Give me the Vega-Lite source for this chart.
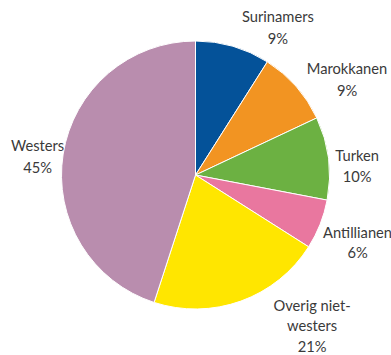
{
  "$schema": "https://vega.github.io/schema/vega-lite/v6.json",
  "autosize": {"type": "none"},
  "width": 391,
  "height": 350,
  "padding": {"left": 0, "right": 0, "top": 0, "bottom": 5},
  "background": "white",
  "config": {"view": {"stroke": null}},
  "data": {
    "values": [
      {"i": 1, "group": "Surinamers", "pct": 9, "label": "Surinamers\n9%"},
      {"i": 2, "group": "Marokkanen", "pct": 9, "label": "Marokkanen\n9%"},
      {"i": 3, "group": "Turken", "pct": 10, "label": "Turken\n10%"},
      {"i": 4, "group": "Antillianen", "pct": 6, "label": "Antillianen\n6%"},
      {"i": 5, "group": "Overig niet-westers", "pct": 21, "label": "Overig niet-\nwesters\n21%"},
      {"i": 6, "group": "Westers", "pct": 45, "label": "Westers\n45%"}
    ]
  },
  "encoding": {
    "theta": {"field": "pct", "type": "quantitative", "stack": true},
    "order": {"field": "i", "type": "quantitative"}
  },
  "layer": [
    {
      "mark": {"type": "arc", "radius": 134, "stroke": "white", "strokeWidth": 1},
      "encoding": {
        "color": {
          "field": "group",
          "type": "nominal",
          "legend": null,
          "scale": {
            "domain": ["Surinamers", "Marokkanen", "Turken", "Antillianen", "Overig niet-westers", "Westers"],
            "range": ["#045299", "#f29422", "#6cb142", "#e9779f", "#ffe600", "#b98dae"]
          }
        }
      }
    },
    {
      "mark": {"type": "text", "radius": 170, "dx": 35, "dy": 6, "align": "center", "baseline": "middle", "lineBreak": "\n", "lineHeight": 22, "font": "Lato", "fontSize": 14.7, "color": "#3a3a3a"},
      "encoding": {"text": {"condition": {"test": "datum.i === 1", "field": "label"}, "value": ""}}
    },
    {
      "mark": {"type": "text", "radius": 170, "dx": 24, "dy": 7.5, "align": "center", "baseline": "middle", "lineBreak": "\n", "lineHeight": 22, "font": "Lato", "fontSize": 14.7, "color": "#3a3a3a"},
      "encoding": {"text": {"condition": {"test": "datum.i === 2", "field": "label"}, "value": ""}}
    },
    {
      "mark": {"type": "text", "radius": 170, "dx": -7, "dy": 3, "align": "center", "baseline": "middle", "lineBreak": "\n", "lineHeight": 21, "font": "Lato", "fontSize": 14.7, "color": "#3a3a3a"},
      "encoding": {"text": {"condition": {"test": "datum.i === 3", "field": "label"}, "value": ""}}
    },
    {
      "mark": {"type": "text", "radius": 170, "dx": 4, "dy": -4, "align": "center", "baseline": "middle", "lineBreak": "\n", "lineHeight": 20, "font": "Lato", "fontSize": 14.7, "color": "#3a3a3a"},
      "encoding": {"text": {"condition": {"test": "datum.i === 4", "field": "label"}, "value": ""}}
    },
    {
      "mark": {"type": "text", "radius": 170, "dx": 59, "dy": -28, "align": "center", "baseline": "middle", "lineBreak": "\n", "lineHeight": 20.5, "font": "Lato", "fontSize": 14.7, "color": "#3a3a3a"},
      "encoding": {"text": {"condition": {"test": "datum.i === 5", "field": "label"}, "value": ""}}
    },
    {
      "mark": {"type": "text", "radius": 170, "dx": 10, "dy": -1, "align": "center", "baseline": "middle", "lineBreak": "\n", "lineHeight": 22, "font": "Lato", "fontSize": 14.7, "color": "#3a3a3a"},
      "encoding": {"text": {"condition": {"test": "datum.i === 6", "field": "label"}, "value": ""}}
    }
  ]
}
